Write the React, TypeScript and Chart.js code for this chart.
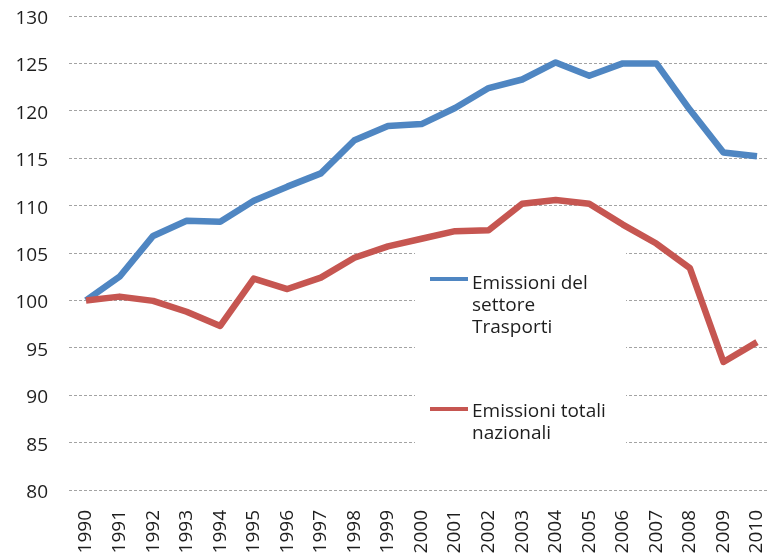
import React, { useEffect, useRef } from "react";
import { Chart, registerables } from "chart.js";

Chart.register(...registerables);

const years = [
  1990, 1991, 1992, 1993, 1994, 1995, 1996, 1997, 1998, 1999, 2000,
  2001, 2002, 2003, 2004, 2005, 2006, 2007, 2008, 2009, 2010,
];
const trasporti = [
  100.0, 102.5, 106.8, 108.4, 108.3, 110.5, 112.0, 113.4, 116.9, 118.4, 118.6,
  120.3, 122.4, 123.3, 125.1, 123.7, 125.0, 125.0, 120.1, 115.6, 115.2,
];
const totali = [
  100.0, 100.4, 99.95, 98.8, 97.3, 102.3, 101.2, 102.4, 104.5, 105.7, 106.5,
  107.3, 107.4, 110.2, 110.6, 110.2, 108.0, 106.0, 103.4, 93.5, 95.6,
];
const seriesLabels = ["Emissioni del settore Trasporti", "Emissioni totali nazionali"];
const legendLines = [
  ["Emissioni del", "settore", "Trasporti"],
  ["Emissioni totali", "nazionali"],
];
const yMin = 80;
const yMax = 130;
const yStep = 5;

const FONT = "'Open Sans', sans-serif";
const BLUE = "#4F86C2";
const RED = "#C65651";

const legendPlugin = {
  id: "boxLegend",
  beforeDatasetsDraw(chart: any) {
    const ctx = chart.ctx;
    ctx.save();
    ctx.fillStyle = "#ffffff";
    ctx.fillRect(415, 253, 211, 197);
    const entries = [
      { sampleY: 279, baseY: 288.5 },
      { sampleY: 409, baseY: 417 },
    ];
    chart.data.datasets.forEach((ds: any, i: number) => {
      const e = entries[i];
      ctx.strokeStyle = ds.borderColor;
      ctx.lineWidth = 4;
      ctx.lineCap = "butt";
      ctx.beginPath();
      ctx.moveTo(430, e.sampleY);
      ctx.lineTo(468, e.sampleY);
      ctx.stroke();
      ctx.fillStyle = "#1e1e1e";
      ctx.font = "19px " + FONT;
      ctx.textAlign = "left";
      ctx.textBaseline = "alphabetic";
      legendLines[i].forEach((t, j) => {
        ctx.fillText(t, 472, e.baseY + j * 22.3);
      });
    });
    ctx.restore();
  },
};

export default function App() {
  const ref = useRef<HTMLCanvasElement>(null);
  useEffect(() => {
    document.body.style.margin = "0";
    document.body.style.overflow = "hidden";
    const chart = new Chart(ref.current as HTMLCanvasElement, {
      type: "line",
      data: {
        datasets: [
          {
            label: seriesLabels[0],
            data: years.map((y, i) => ({ x: y, y: trasporti[i] })),
            borderColor: BLUE,
            backgroundColor: BLUE,
            borderWidth: 6.5,
            pointRadius: 0,
            tension: 0,
            borderJoinStyle: "round",
            order: 1,
          },
          {
            label: seriesLabels[1],
            data: years.map((y, i) => ({ x: y, y: totali[i] })),
            borderColor: RED,
            backgroundColor: RED,
            borderWidth: 6.5,
            pointRadius: 0,
            tension: 0,
            borderJoinStyle: "round",
            order: 0,
          },
        ],
      },
      options: {
        responsive: false,
        animation: false,
        layout: { padding: { top: 16, right: 0, left: 0, bottom: 0 } },
        plugins: { legend: { display: false }, tooltip: { enabled: false } },
        scales: {
          x: {
            type: "linear",
            min: 1989.493,
            max: 2010.358,
            afterBuildTicks: (scale: any) => {
              scale.ticks = years.map((v) => ({ value: v }));
            },
            afterFit: (scale: any) => {
              scale.height = 67;
              scale.paddingLeft = 0;
              scale.paddingRight = 0;
              scale.paddingTop = 0;
              scale.paddingBottom = 0;
            },
            grid: { display: false, drawTicks: false },
            border: { display: false },
            ticks: {
              autoSkip: false,
              maxRotation: 90,
              minRotation: 90,
              padding: 20,
              color: "#1e1e1e",
              font: { family: FONT, size: 19 },
              callback: (v: any) => String(v),
            },
          },
          y: {
            min: yMin,
            max: yMax,
            afterFit: (scale: any) => {
              scale.width = 69;
              scale.paddingLeft = 0;
              scale.paddingRight = 0;
              scale.paddingTop = 0;
              scale.paddingBottom = 0;
            },
            grid: { color: "#a3a3a3", lineWidth: 1, drawTicks: false },
            border: { display: false, dash: [3, 2] },
            ticks: {
              stepSize: yStep,
              padding: 21,
              labelOffset: 2.5,
              color: "#1e1e1e",
              font: { family: FONT, size: 19 },
            },
          },
        },
      },
      plugins: [legendPlugin],
    } as any);
    return () => chart.destroy();
  }, []);
  return (
    <div style={{ width: 769, height: 557, position: "relative" }}>
      <canvas ref={ref} width={769} height={557} />
    </div>
  );
}
